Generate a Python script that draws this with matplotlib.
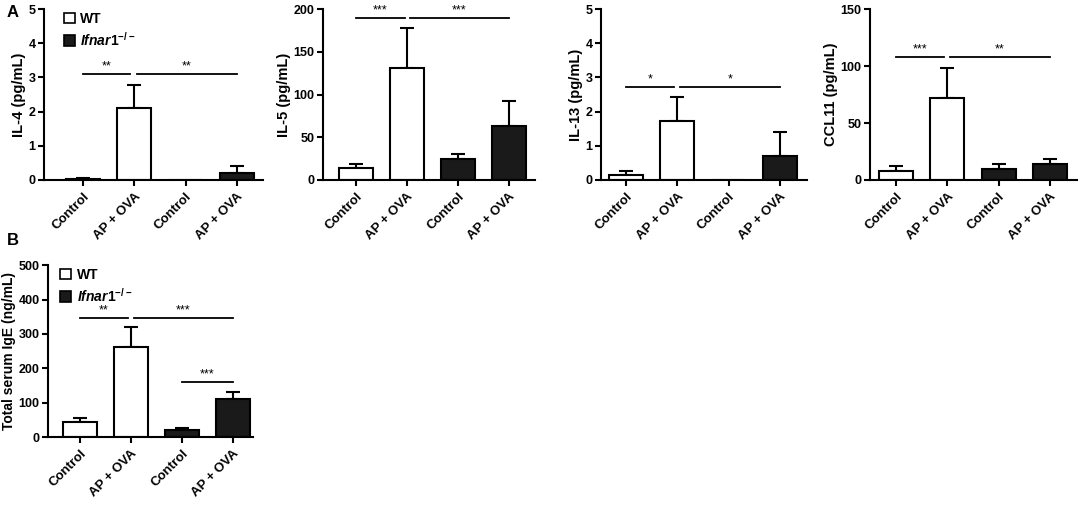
import matplotlib.pyplot as plt
from matplotlib.patches import Patch

plt.rcParams['font.family'] = ['Liberation Sans', 'DejaVu Sans']
plt.rcParams['font.weight'] = 'bold'
plt.rcParams['mathtext.fontset'] = 'custom'
plt.rcParams['mathtext.it'] = 'Liberation Sans:italic:bold'
plt.rcParams['mathtext.rm'] = 'Liberation Sans:bold'

groups = ['Control', 'AP + OVA', 'Control', 'AP + OVA']
colors = ['white', 'white', '#1a1a1a', '#1a1a1a']

il4 = [0.03, 2.1, 0.0, 0.2]
il4_err = [0.02, 0.67, 0.0, 0.21]
il5 = [14, 131, 24, 63]
il5_err = [5, 47, 7, 30]
il13 = [0.15, 1.73, 0.0, 0.7]
il13_err = [0.12, 0.69, 0.0, 0.71]
ccl11 = [8, 72, 10, 14]
ccl11_err = [4, 26, 4, 4]
ige = [43, 263, 21, 110]
ige_err = [12, 57, 4, 20]

# (x0, x1, y, label)
il4_sig = [(0, 0.92, 3.1, '**'), (1.05, 3, 3.1, '**')]
il5_sig = [(0, 0.95, 190, '***'), (1.05, 3, 190, '***')]
il13_sig = [(0, 0.93, 2.72, '*'), (1.05, 3, 2.72, '*')]
ccl11_sig = [(0, 0.93, 108, '***'), (1.05, 3, 108, '**')]
ige_sig = [(0, 0.93, 346, '**'), (1.05, 3, 346, '***'), (2, 3, 160, '***')]

fig = plt.figure(figsize=(10.84, 5.07), dpi=100)

panels = [
    ([0.0406, 0.645, 0.202, 0.337], il4, il4_err, il4_sig, 'IL-4 (pg/mL)', 5, 1, (-0.76, 3.51), (0.09, 0.985), 10.5),
    ([0.298, 0.645, 0.1956, 0.337], il5, il5_err, il5_sig, 'IL-5 (pg/mL)', 200, 50, (-0.65, 3.51), None, 10.5),
    ([0.5544, 0.645, 0.190, 0.337], il13, il13_err, il13_sig, 'IL-13 (pg/mL)', 5, 1, (-0.49, 3.53), None, 10.5),
    ([0.8026, 0.645, 0.191, 0.337], ccl11, ccl11_err, ccl11_sig, 'CCL11 (pg/mL)', 150, 50, (-0.51, 3.53), None, 10.5),
    ([0.0443, 0.138, 0.189, 0.339], ige, ige_err, ige_sig, 'Total serum IgE (ng/mL)', 500, 100, (-0.63, 3.39), (0.06, 0.985), 10),
]

for rect, vals, errs, sigs, ylabel, ymax, step, xlim, legpos, ylsize in panels:
    ax = fig.add_axes(rect)
    x = list(range(len(groups)))
    ax.bar(x, vals, width=0.66, color=colors, edgecolor='black', linewidth=1.5, zorder=2)
    for xi, v, e in zip(x, vals, errs):
        if e > 0:
            ax.errorbar(xi, v, yerr=[[0], [e]], fmt='none', ecolor='black',
                        elinewidth=1.5, capsize=5, capthick=1.5, zorder=1)
    for x0, x1, y, lab in sigs:
        ax.plot([x0, x1], [y, y], color='black', lw=1.3)
        ax.text((x0 + x1) / 2, y + ymax * 0.008, lab, ha='center', va='bottom',
                fontsize=9, fontweight='normal')
    ax.set_ylim(0, ymax)
    ax.set_xlim(*xlim)
    ax.set_yticks(range(0, ymax + 1, step))
    ax.set_xticks(x)
    ax.set_xticklabels(groups, rotation=45, ha='right', rotation_mode='anchor', fontsize=9.5)
    ax.set_ylabel(ylabel, fontsize=ylsize, fontweight='bold', labelpad=2)
    ax.tick_params(axis='y', labelsize=9, width=1.5, length=4, pad=2)
    ax.tick_params(axis='x', width=1.5, length=4)
    for s in ['top', 'right']:
        ax.spines[s].set_visible(False)
    for s in ['left', 'bottom']:
        ax.spines[s].set_linewidth(1.5)
    if legpos is not None:
        handles = [Patch(facecolor='white', edgecolor='black', linewidth=1.2),
                   Patch(facecolor='#1a1a1a', edgecolor='black', linewidth=1.2)]
        ax.legend(handles, ['WT', r'$\mathit{Ifnar1}^{-/-}$'], loc='upper left',
                  bbox_to_anchor=legpos, frameon=False, fontsize=10,
                  handlelength=0.8, handleheight=0.8, handletextpad=0.4,
                  labelspacing=0.35, borderaxespad=0, borderpad=0)

fig.text(0.006, 0.99, 'A', fontsize=12, fontweight='bold', va='top')
fig.text(0.006, 0.54, 'B', fontsize=12, fontweight='bold', va='top')

fig.savefig('out.png', dpi=100)
